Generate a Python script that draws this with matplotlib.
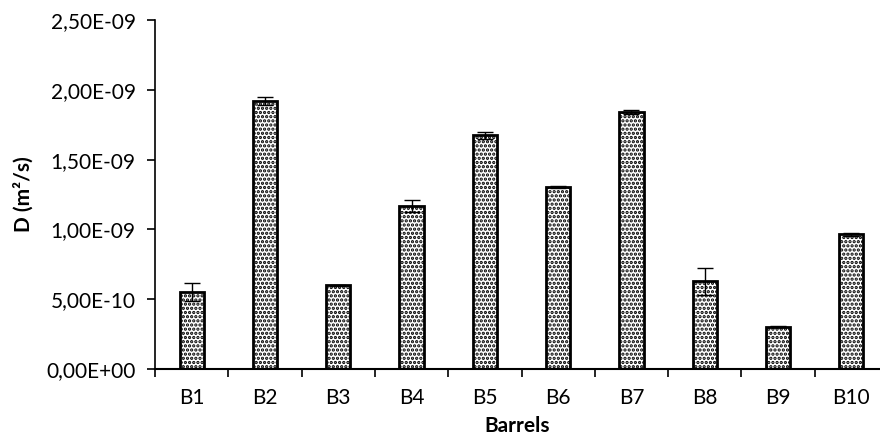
import matplotlib
matplotlib.use("Agg")
import matplotlib.pyplot as plt
from matplotlib.ticker import FuncFormatter, FixedLocator
import numpy as np

barrels = ["B1", "B2", "B3", "B4", "B5", "B6", "B7", "B8", "B9", "B10"]
d_values = [0.55e-9, 1.92e-9, 0.60e-9, 1.168e-9, 1.676e-9, 1.304e-9, 1.841e-9, 0.628e-9, 0.303e-9, 0.965e-9]
d_errors = [0.065e-9, 0.03e-9, 0.005e-9, 0.045e-9, 0.025e-9, 0.005e-9, 0.015e-9, 0.095e-9, 0.005e-9, 0.01e-9]

plt.rcParams['font.family'] = ['Lato', 'DejaVu Sans']
plt.rcParams['hatch.linewidth'] = 1.6

fig = plt.figure(figsize=(8.8, 4.45), dpi=100)
ax = fig.add_axes([155/880, 1 - 369/445, 733/880, 349/445])

x = np.arange(len(barrels))
ax.bar(x, d_values, width=0.33, color='white', edgecolor='black', linewidth=2,
       hatch='....', zorder=2)
ax.errorbar(x, d_values, yerr=d_errors, fmt='none', ecolor='black',
            elinewidth=1, capsize=6, capthick=1, zorder=3)

ax.set_xlim(-0.5, len(barrels) - 0.5)
ax.set_ylim(0, 2.5e-9)
ax.set_yticks(np.arange(0, 2.51e-9, 0.5e-9))

def fmt(v, pos):
    s = "%.2E" % v
    return s.replace(".", ",")
ax.yaxis.set_major_formatter(FuncFormatter(fmt))

ax.set_xticks(x)
ax.set_xticklabels(barrels)
ax.xaxis.set_minor_locator(FixedLocator(np.arange(-0.5, len(barrels), 1.0)))
ax.tick_params(axis='x', which='major', length=0, pad=14, labelsize=15)
ax.tick_params(axis='x', which='minor', length=6, width=1.2, direction='out')
ax.tick_params(axis='y', length=6, width=1.2, labelsize=15, pad=8)

for s in ['top', 'right']:
    ax.spines[s].set_visible(False)
ax.spines['left'].set_linewidth(1.2)
ax.spines['bottom'].set_linewidth(1.5)

ax.set_ylabel("D (m²/s)", fontsize=15, fontweight='bold')
ax.yaxis.set_label_coords(-121/733, 0.5)
ax.set_xlabel("Barrels", fontsize=15, fontweight='bold')
ax.xaxis.set_label_coords(362/733, -0.135)

fig.savefig("out.png", dpi=100)
